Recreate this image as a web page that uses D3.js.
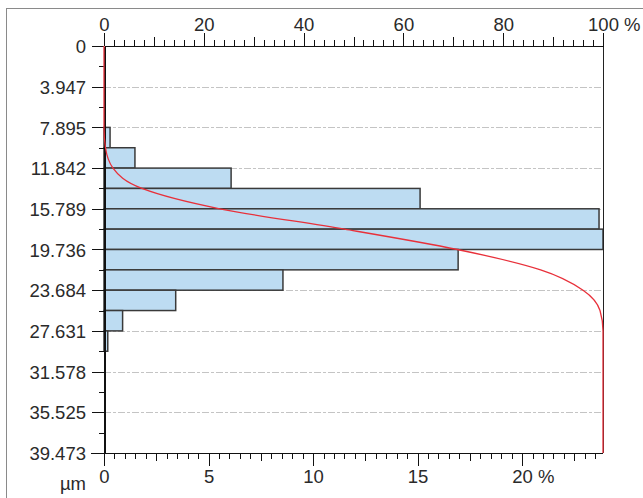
<!DOCTYPE html>
<html>
<head>
<meta charset="utf-8">
<script src="https://cdn.jsdelivr.net/npm/d3@7"></script>
<style>
    body { margin: 0; background: #fff; }
    svg text { font-family: "Liberation Sans", Arial, sans-serif; font-size: 18.5px; fill: #2a2a2a; }
    .axis path, .axis line { stroke: #111; shape-rendering: crispEdges; }
</style>
</head>
<body>
<svg id="chart" width="643" height="498"></svg>
<script>
// depth axis (µm)
var depthTicks = [0, 3.947, 7.895, 11.842, 15.789, 19.736, 23.684, 27.631, 31.578, 35.525, 39.473];
var depthLabels = ["0", "3.947", "7.895", "11.842", "15.789", "19.736", "23.684", "27.631", "31.578", "35.525", "39.473"];

// histogram bins (edges in µm) and their share in %
var binEdges = [7.895, 9.868, 11.842, 13.815, 15.789, 17.762, 19.736, 21.710, 23.684, 25.657, 27.631, 29.605];
var binPercent = [0.29, 1.48, 6.08, 15.12, 23.68, 23.87, 16.94, 8.56, 3.43, 0.89, 0.18];

// cumulative curve (red), top axis in %
var cumDepth = [0, 7.895, 9.868, 11.842, 13.815, 15.789, 17.762, 19.736, 21.710, 23.684, 25.657, 27.631, 29.605, 39.473];
var cumPercent = [0, 0, 0.3, 1.8, 7.6, 23.2, 48.2, 70.8, 87.5, 96, 99.4, 100, 100, 100];

var topTicks = [0, 20, 40, 60, 80, 100];
var bottomTicks = [0, 5, 10, 15, 20];

var margin = { top: 46, right: 40, bottom: 45, left: 104 };
var width = 643 - margin.left - margin.right;   // 499
var height = 498 - margin.top - margin.bottom;  // 407

var colors = {
    bar: "#bddcf2",
    barStroke: "#3a3a3a",
    curve: "#e8303a",
    grid: "#c4c4c4",
    frame: "#8a8a8a"
};

var svg = d3.select("#chart");

// outer frame, clipped by the window on the right and bottom
svg.append("rect")
    .attr("x", 6.5).attr("y", 8.5)
    .attr("width", 700).attr("height", 600)
    .attr("fill", "none")
    .attr("stroke", colors.frame);

var chart = svg.append("g")
    .attr("transform", "translate(" + margin.left + "," + margin.top + ")");

var y = d3.scaleLinear().domain([0, 39.473]).range([0, height]);
var xTop = d3.scaleLinear().domain([0, 100]).range([0, width]);
var xBottom = d3.scaleLinear().domain([0, d3.max(binPercent)]).range([0, width]);

// dashed grid lines at the labelled depths
chart.append("g")
    .selectAll("line")
    .data(depthTicks.slice(1, -1))
    .enter()
    .append("line")
        .attr("x1", 0).attr("x2", width - 2)
        .attr("y1", function (d) { return Math.round(y(d)) + 0.5; })
        .attr("y2", function (d) { return Math.round(y(d)) + 0.5; })
        .attr("stroke", colors.grid)
        .attr("stroke-dasharray", "7,2,3,2");

// bars
chart.append("g")
    .selectAll("rect")
    .data(binPercent)
    .enter()
    .append("rect")
        .attr("x", 0)
        .attr("y", function (d, i) { return y(binEdges[i]); })
        .attr("width", function (d) { return xBottom(d); })
        .attr("height", function (d, i) { return y(binEdges[i + 1]) - y(binEdges[i]); })
        .attr("fill", colors.bar)
        .attr("stroke", colors.barStroke)
        .attr("stroke-width", 1.5);

// right frame line
chart.append("line")
    .attr("x1", width + 0.5).attr("x2", width + 0.5)
    .attr("y1", -13).attr("y2", height)
    .attr("stroke", "#222");

// left axis (depth)
var leftMinor = chart.append("g").attr("class", "axis")
    .call(d3.axisLeft(y)
        .tickValues(d3.range(10).map(function (i) { return 1.97365 + i * 3.9473; }))
        .tickSize(5).tickFormat(""));
leftMinor.select(".domain").remove();

var leftAxis = chart.append("g").attr("class", "axis")
    .call(d3.axisLeft(y)
        .tickValues(depthTicks)
        .tickSize(12).tickSizeOuter(0)
        .tickFormat(function (d, i) { return depthLabels[i]; }));
leftAxis.select(".domain").attr("stroke-width", 2);
leftAxis.selectAll(".tick text").attr("x", -18).attr("dy", "0.36em");

// top axis (cumulative %)
[{ step: 2, size: 6 }, { step: 10, size: 9 }].forEach(function (t) {
    var g = chart.append("g").attr("class", "axis")
        .call(d3.axisTop(xTop)
            .tickValues(d3.range(0, 100.001, t.step))
            .tickSize(t.size).tickFormat(""));
    g.select(".domain").remove();
});
var topAxis = chart.append("g").attr("class", "axis")
    .call(d3.axisTop(xTop).tickValues(topTicks).tickSize(13).tickSizeOuter(0));
topAxis.selectAll(".tick text").attr("y", -15);

// bottom axis (share %)
[{ step: 0.5, size: 6 }, { step: 2.5, size: 8 }].forEach(function (t) {
    var g = chart.append("g").attr("class", "axis")
        .attr("transform", "translate(0," + height + ")")
        .call(d3.axisBottom(xBottom)
            .tickValues(d3.range(0, d3.max(binPercent), t.step))
            .tickSize(t.size).tickFormat(""));
    g.select(".domain").remove();
});
var bottomAxis = chart.append("g").attr("class", "axis")
    .attr("transform", "translate(0," + height + ")")
    .call(d3.axisBottom(xBottom).tickValues(bottomTicks).tickSize(13).tickSizeOuter(0));
bottomAxis.selectAll(".tick text").attr("y", 17);
bottomAxis.select(".domain").attr("d", "M-13,0.5H" + width);

svg.selectAll(".axis text")
    .style("font-family", "'Liberation Sans', Arial, sans-serif")
    .style("font-size", "18.5px")
    .attr("fill", "#2a2a2a");

// append " %" after the last label of the percentage axes
function addPercent(axis) {
    var last = axis.selectAll(".tick text").filter(function (d, i, n) { return i === n.length - 1; });
    var w = last.node().getComputedTextLength();
    d3.select(last.node().parentNode).append("text")
        .attr("x", w / 2 + 5)
        .attr("y", last.attr("y"))
        .attr("dy", last.attr("dy"))
        .attr("text-anchor", "start")
        .attr("fill", "#2a2a2a")
        .text("%");
}
addPercent(topAxis);
addPercent(bottomAxis);

// unit label
svg.append("text")
    .attr("x", 86).attr("y", 490)
    .attr("text-anchor", "end")
    .text("µm");

// cumulative curve
var line = d3.line()
    .curve(d3.curveMonotoneY)
    .x(function (d, i) { return xTop(cumPercent[i]); })
    .y(function (d) { return y(d); });

chart.append("path")
    .datum(cumDepth)
    .attr("d", line)
    .attr("fill", "none")
    .attr("stroke", colors.curve)
    .attr("stroke-width", 1.3);
</script>
</body>
</html>
